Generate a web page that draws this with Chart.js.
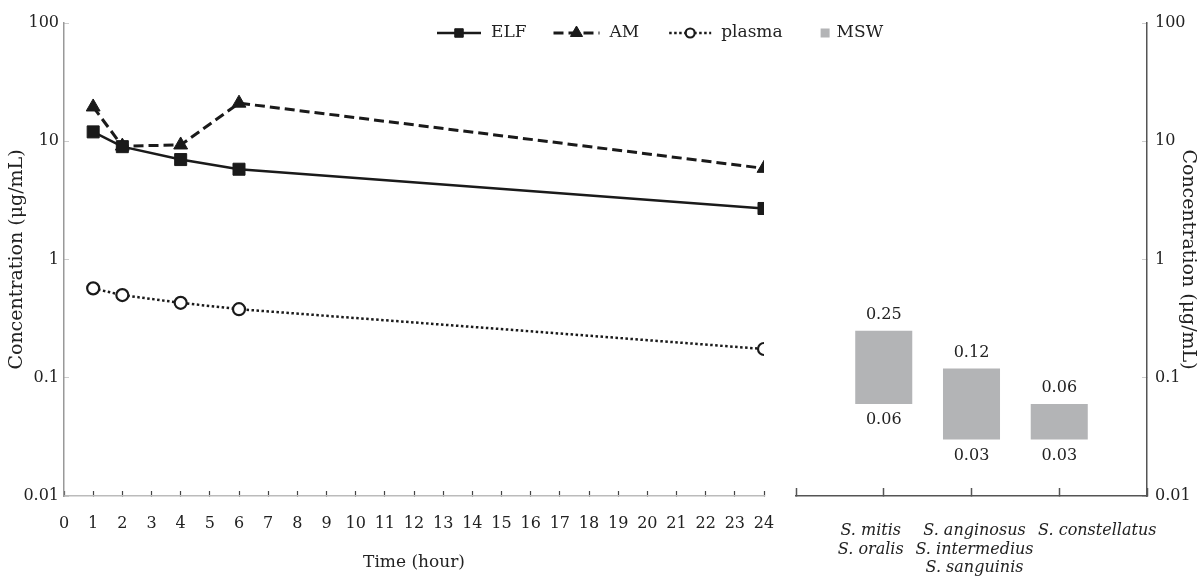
<!DOCTYPE html>
<html>
<head>
<meta charset="utf-8">
<title>ELF / AM / plasma concentration</title>
<script src="https://cdn.jsdelivr.net/npm/chart.js@4/dist/chart.umd.min.js"></script>
<style>
  html, body { margin: 0; padding: 0; background: #fff; }
  #wrap { position: relative; width: 1201px; height: 576px; }
  #timeChart { position: absolute; left: 0; top: 0; }
  #mswChart { position: absolute; left: 780px; top: 0; }
</style>
</head>
<body>
<div id="wrap">
  <canvas id="timeChart" width="1201" height="576"></canvas>
  <canvas id="mswChart" width="421" height="576"></canvas>
</div>
<script>
// data
const hours = [1, 2, 4, 6, 24];
const elfConc = [12, 9, 7, 5.8, 2.7];
const amConc = [19.5, 9.1, 9.3, 21, 5.9];
const plasmaConc = [0.57, 0.5, 0.43, 0.38, 0.175];
const logTicks = [0.01, 0.1, 1, 10, 100];
const species = [
    ['S. mitis', 'S. oralis'],
    ['S. anginosus', 'S. intermedius', 'S. sanguinis'],
    ['S. constellatus']
];
const mswLow = [0.06, 0.03, 0.03];
const mswHigh = [0.25, 0.12, 0.06];

const serif = '"DejaVu Serif", "Liberation Serif", serif';
const ink = '#1a1a1a';
const textColor = '#222';
const mswColor = '#b3b4b6';

Chart.defaults.font.family = serif;
Chart.defaults.color = textColor;

const toPoints = vals => vals.map((v, i) => ({ x: hours[i], y: v }));
const setLogTicks = scale => { scale.ticks = logTicks.map(v => ({ value: v })); };

// Legend drawn across both panels (line sample + marker, then MSW box)
const figLegend = {
    id: 'figLegend',
    afterDraw(chart) {
        const ctx = chart.ctx;
        const iconW = [44, 46, 42, 9];
        const gapAfter = [27, 30, 38, 0];
        const markerR = { rect: 6, triangle: 7, circle: 4.5 };
        const items = chart.data.datasets.map(ds => ({ text: ds.label, ds: ds }));
        items.push({ text: 'MSW' });
        let x = 437;
        const y = 33;
        ctx.save();
        ctx.font = '17px ' + serif;
        ctx.textBaseline = 'middle';
        items.forEach((it, i) => {
            if (it.ds) {
                ctx.strokeStyle = it.ds.borderColor;
                ctx.lineWidth = it.ds.borderWidth;
                ctx.setLineDash(it.ds.borderDash || []);
                ctx.beginPath();
                ctx.moveTo(x, y);
                ctx.lineTo(x + iconW[i], y);
                ctx.stroke();
                ctx.setLineDash([]);
                ctx.fillStyle = it.ds.pointBackgroundColor;
                ctx.lineWidth = it.ds.pointBorderWidth;
                Chart.helpers.drawPoint(ctx, {
                    pointStyle: it.ds.pointStyle,
                    radius: markerR[it.ds.pointStyle],
                    borderWidth: it.ds.pointBorderWidth,
                    rotation: 0
                }, x + iconW[i] / 2, y);
            } else {
                ctx.fillStyle = mswColor;
                ctx.fillRect(x, y - 4.5, iconW[i], 9);
            }
            x += iconW[i] + (it.ds ? 10 : 7);
            ctx.fillStyle = textColor;
            ctx.fillText(it.text, x, y);
            x += ctx.measureText(it.text).width + gapAfter[i];
        });
        ctx.restore();
    }
};

// Range labels above / below each MSW bar, species names under the axis
const barLabels = {
    id: 'barLabels',
    afterDatasetsDraw(chart) {
        const ctx = chart.ctx;
        const meta = chart.getDatasetMeta(0);
        const data = chart.data.datasets[0].data;
        const xScale = chart.scales.x;
        const nameShift = [-13, 3, 38];
        ctx.save();
        ctx.font = '16px ' + serif;
        ctx.fillStyle = textColor;
        ctx.textAlign = 'center';
        ctx.textBaseline = 'middle';
        meta.data.forEach((bar, i) => {
            const d = data[i];
            if (!d) return;
            ctx.fillText(d[1].toFixed(2), bar.x, bar.y - 16);
            ctx.fillText(d[0].toFixed(2), bar.x, bar.base + 16);
        });
        ctx.font = 'italic 16px ' + serif;
        species.forEach((lines, i) => {
            const cx = xScale.getPixelForValue(i + 1) + nameShift[i];
            lines.forEach((line, k) => {
                ctx.fillText(line, cx, xScale.top + 35 + k * 18.5);
            });
        });
        ctx.restore();
    }
};

document.addEventListener('DOMContentLoaded', function() {
    // Time course chart (left panel)
    const timeCtx = document.getElementById('timeChart').getContext('2d');
    const timeChart = new Chart(timeCtx, {
        type: 'line',
        data: {
            datasets: [{
                label: 'ELF',
                data: toPoints(elfConc),
                borderColor: ink,
                borderWidth: 2.5,
                pointStyle: 'rect',
                pointRadius: 8.5,
                pointBackgroundColor: ink,
                pointBorderColor: ink,
                pointBorderWidth: 1
            }, {
                label: 'AM',
                data: toPoints(amConc),
                borderColor: ink,
                borderWidth: 3,
                borderDash: [10, 5],
                pointStyle: 'triangle',
                pointRadius: 8,
                pointBackgroundColor: ink,
                pointBorderColor: ink,
                pointBorderWidth: 1
            }, {
                label: 'plasma',
                data: toPoints(plasmaConc),
                borderColor: ink,
                borderWidth: 2.5,
                borderDash: [2.5, 2.5],
                pointStyle: 'circle',
                pointRadius: 6,
                pointBackgroundColor: '#fff',
                pointBorderColor: ink,
                pointBorderWidth: 2.2
            }]
        },
        options: {
            responsive: false,
            animation: false,
            layout: { padding: { top: 23, right: 437, left: 0, bottom: 0 } },
            plugins: {
                legend: { display: false },
                tooltip: { enabled: false }
            },
            scales: {
                x: {
                    type: 'linear',
                    min: 0,
                    max: 24,
                    afterFit: s => { s.height = 80; },
                    border: { color: '#bbb', width: 1.5 },
                    grid: { drawOnChartArea: false, tickLength: -5, tickColor: '#444', tickWidth: 1.2 },
                    ticks: { stepSize: 1, autoSkip: false, maxRotation: 0, padding: 23, font: { size: 16 } },
                    title: { display: true, text: 'Time (hour)', font: { size: 17 }, padding: { top: 0, bottom: 3 } }
                },
                y: {
                    type: 'logarithmic',
                    min: 0.01,
                    max: 100,
                    afterFit: s => { s.width = 64; },
                    afterBuildTicks: setLogTicks,
                    border: { color: '#999', width: 1.5 },
                    grid: { drawOnChartArea: false, tickLength: -5, tickColor: '#ccc' },
                    ticks: { padding: 10, font: { size: 16 }, callback: v => String(v) },
                    title: { display: true, text: 'Concentration (μg/mL)', font: { size: 19 }, padding: 6 }
                }
            }
        },
        plugins: [figLegend]
    });

    // MSW range chart (right panel)
    const mswCtx = document.getElementById('mswChart').getContext('2d');
    const mswChart = new Chart(mswCtx, {
        type: 'bar',
        data: {
            labels: ['', ...species.map(s => s.join(' / ')), ''],
            datasets: [{
                label: 'MSW',
                data: [null, ...mswLow.map((lo, i) => [lo, mswHigh[i]]), null],
                backgroundColor: mswColor,
                borderWidth: 0,
                categoryPercentage: 1,
                barPercentage: 0.65
            }]
        },
        options: {
            responsive: false,
            animation: false,
            layout: { padding: { top: 23, left: 16, right: 0, bottom: 0 } },
            plugins: {
                legend: { display: false },
                tooltip: { enabled: false }
            },
            scales: {
                x: {
                    type: 'category',
                    offset: false,
                    afterFit: s => { s.height = 80; },
                    border: { color: '#555', width: 1.5 },
                    grid: { offset: false, drawOnChartArea: false, tickLength: -8, tickColor: '#555', tickWidth: 1.5 },
                    ticks: { display: false }
                },
                y: {
                    type: 'logarithmic',
                    position: 'right',
                    min: 0.01,
                    max: 100,
                    afterFit: s => { s.width = 54; },
                    afterBuildTicks: setLogTicks,
                    border: { color: '#555', width: 1.5 },
                    grid: { drawOnChartArea: false, tickLength: -5, tickColor: '#ccc' },
                    ticks: { padding: 13, font: { size: 16 }, callback: v => String(v) },
                    title: { display: true, text: 'Concentration (μg/mL)', font: { size: 19 }, padding: 2 }
                }
            }
        },
        plugins: [barLabels]
    });
});
</script>
</body>
</html>
